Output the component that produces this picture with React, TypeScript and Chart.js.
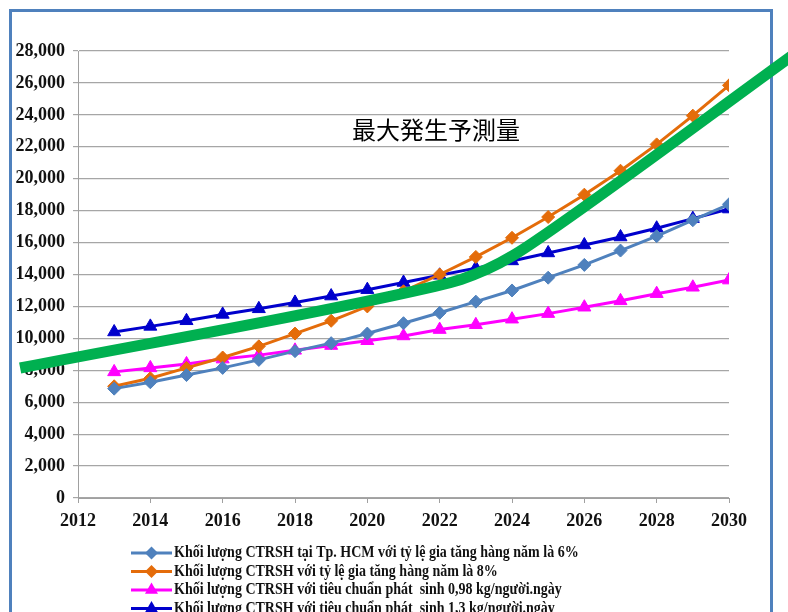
import React, { useEffect, useRef } from "react";
import { Chart, registerables } from "chart.js";

Chart.register(...registerables);

const years = [2013, 2014, 2015, 2016, 2017, 2018, 2019, 2020, 2021, 2022, 2023, 2024, 2025, 2026, 2027, 2028, 2029, 2030];

const hcm6 = [6850, 7250, 7700, 8150, 8650, 9200, 9700, 10300, 10950, 11600, 12300, 13000, 13800, 14600, 15500, 16400, 17400, 18400];
const rate8 = [7000, 7500, 8150, 8800, 9500, 10300, 11100, 12000, 12950, 14000, 15100, 16300, 17600, 19000, 20500, 22150, 23950, 25850];
const std098 = [7900, 8150, 8400, 8700, 8950, 9250, 9550, 9850, 10150, 10550, 10850, 11200, 11550, 11950, 12350, 12800, 13200, 13650];
const std13 = [10400, 10750, 11100, 11500, 11850, 12250, 12650, 13050, 13500, 13950, 14400, 14850, 15350, 15850, 16350, 16900, 17500, 18100];

// hand-drawn green highlight (year, value)
const highlightX = [2010.4, 2021.87, 2022.59, 2023.32, 2024.04, 2024.77, 2031.83];
const highlightY = [8143, 13261, 13693, 14338, 15203, 16286, 27850];

const annotationText = "最大発生予測量";
const annotationAt = { x: 2021.9, y: 23050 };

const seriesLabels = [
  "Khối lượng CTRSH tại Tp. HCM với tỷ lệ gia tăng hàng năm là 6%",
  "Khối lượng CTRSH với tỷ lệ gia tăng hàng năm là 8%",
  "Khối lượng CTRSH với tiêu chuẩn phát  sinh 0,98 kg/người.ngày",
  "Khối lượng CTRSH với tiêu chuẩn phát  sinh 1,3 kg/người.ngày",
];
const seriesColors = ["#4f81bd", "#e46c0a", "#ff00ff", "#0000cc"];
const seriesStyles = ["rectRot", "rectRot", "triangle", "triangle"];
const seriesRadius = [6.5, 6.5, 7.5, 7.5];

const yMin = 0;
const yMax = 28000;
const yStep = 2000;
const xMin = 2012;
const xMax = 2030;
const xStep = 2;

const serifBold = { family: "'Liberation Serif', 'Times New Roman', serif", size: 18, weight: "bold" as const };

function drawMarker(ctx: CanvasRenderingContext2D, style: string, x: number, y: number, r: number, color: string) {
  ctx.save();
  ctx.fillStyle = color;
  ctx.beginPath();
  if (style === "rectRot") {
    ctx.moveTo(x, y - r);
    ctx.lineTo(x + r, y);
    ctx.lineTo(x, y + r);
    ctx.lineTo(x - r, y);
  } else {
    const h = r * 1.5;
    ctx.moveTo(x, y - h * 0.66);
    ctx.lineTo(x + r * 0.87, y + h * 0.34);
    ctx.lineTo(x - r * 0.87, y + h * 0.34);
  }
  ctx.closePath();
  ctx.fill();
  ctx.restore();
}

export default function App() {
  const ref = useRef<HTMLCanvasElement>(null);

  useEffect(() => {
    if (!ref.current) return;
    const allSeries = [hcm6, rate8, std098, std13];

    const annotationPlugin = {
      id: "annot",
      afterDraw(chart: any) {
        const ctx = chart.ctx;
        const xs = chart.scales.x;
        const ys = chart.scales.y;
        ctx.save();
        ctx.font = "24px 'Noto Sans CJK JP', sans-serif";
        ctx.fillStyle = "#000";
        ctx.textAlign = "center";
        ctx.textBaseline = "middle";
        ctx.fillText(annotationText, xs.getPixelForValue(annotationAt.x), ys.getPixelForValue(annotationAt.y));
        ctx.restore();
      },
    };

    const legendPlugin = {
      id: "customLegend",
      afterDraw(chart: any) {
        const ctx = chart.ctx;
        const rowY0 = 553;
        const rowH = 18.5;
        const lineX0 = 131;
        const lineX1 = 172;
        const textX = 174;
        const squeeze = 0.875;
        ctx.save();
        seriesLabels.forEach((label, i) => {
          const y = rowY0 + i * rowH;
          ctx.strokeStyle = seriesColors[i];
          ctx.lineWidth = 3;
          ctx.beginPath();
          ctx.moveTo(lineX0, y);
          ctx.lineTo(lineX1, y);
          ctx.stroke();
          drawMarker(ctx, seriesStyles[i], (lineX0 + lineX1) / 2, y, seriesRadius[i], seriesColors[i]);
          ctx.save();
          ctx.translate(textX, y);
          ctx.scale(squeeze, 1);
          ctx.fillStyle = "#111";
          ctx.font = "bold 16px 'Liberation Serif', 'Times New Roman', serif";
          ctx.textAlign = "left";
          ctx.textBaseline = "middle";
          ctx.fillText(label, 0, 0);
          ctx.restore();
        });
        ctx.restore();
      },
    };

    const datasets: any[] = [
      {
        label: "highlight",
        data: highlightX.map((x, i) => ({ x, y: highlightY[i] })),
        borderColor: "#00b050",
        backgroundColor: "#00b050",
        borderWidth: 11,
        pointRadius: 0,
        tension: 0.4,
        cubicInterpolationMode: "monotone",
        borderCapStyle: "butt",
        clip: false,
        order: -1,
      },
      ...allSeries.map((vals, i) => ({
        label: seriesLabels[i],
        data: years.map((yr, j) => ({ x: yr, y: vals[j] })),
        borderColor: seriesColors[i],
        backgroundColor: seriesColors[i],
        pointBackgroundColor: seriesColors[i],
        pointBorderColor: seriesColors[i],
        pointStyle: seriesStyles[i],
        pointRadius: seriesRadius[i],
        pointBorderWidth: 1,
        borderWidth: 3,
        tension: 0,
        order: i,
      })),
    ];

    const chart = new Chart(ref.current, {
      type: "line",
      data: { datasets },
      plugins: [annotationPlugin, legendPlugin],
      options: {
        responsive: false,
        animation: false,
        layout: { padding: { left: 0, right: 59, top: 51, bottom: 0 } },
        plugins: { legend: { display: false }, tooltip: { enabled: false } },
        scales: {
          x: {
            type: "linear",
            min: xMin,
            max: xMax,
            afterFit: (s: any) => {
              s.height = 114;
            },
            ticks: {
              stepSize: xStep,
              font: serifBold,
              color: "#111",
              padding: 8,
              callback: (v: any) => String(v),
              maxRotation: 0,
            },
            grid: { drawOnChartArea: false, color: "#a0a0a0", tickLength: 5, lineWidth: 1 },
            border: { color: "#a0a0a0", width: 1 },
          },
          y: {
            min: yMin,
            max: yMax,
            afterFit: (s: any) => {
              s.width = 78;
            },
            ticks: {
              stepSize: yStep,
              font: serifBold,
              color: "#111",
              padding: 8,
              callback: (v: any) => Number(v).toLocaleString("en-US"),
            },
            grid: { color: "#a6a6a6", tickLength: 5, lineWidth: 1.2 },
            border: { color: "#a0a0a0", width: 1 },
          },
        },
      } as any,
    });
    return () => chart.destroy();
  }, []);

  return (
    <div style={{ position: "fixed", left: 0, top: 0, width: 788, height: 612, background: "#fff", overflow: "hidden" }}>
      <div
        style={{
          position: "absolute",
          left: 9,
          top: 9,
          width: 764,
          height: 640,
          border: "3px solid #4f81bd",
          boxSizing: "border-box",
        }}
      />
      <canvas ref={ref} width={788} height={612} style={{ position: "absolute", left: 0, top: 0, width: 788, height: 612 }} />
    </div>
  );
}
